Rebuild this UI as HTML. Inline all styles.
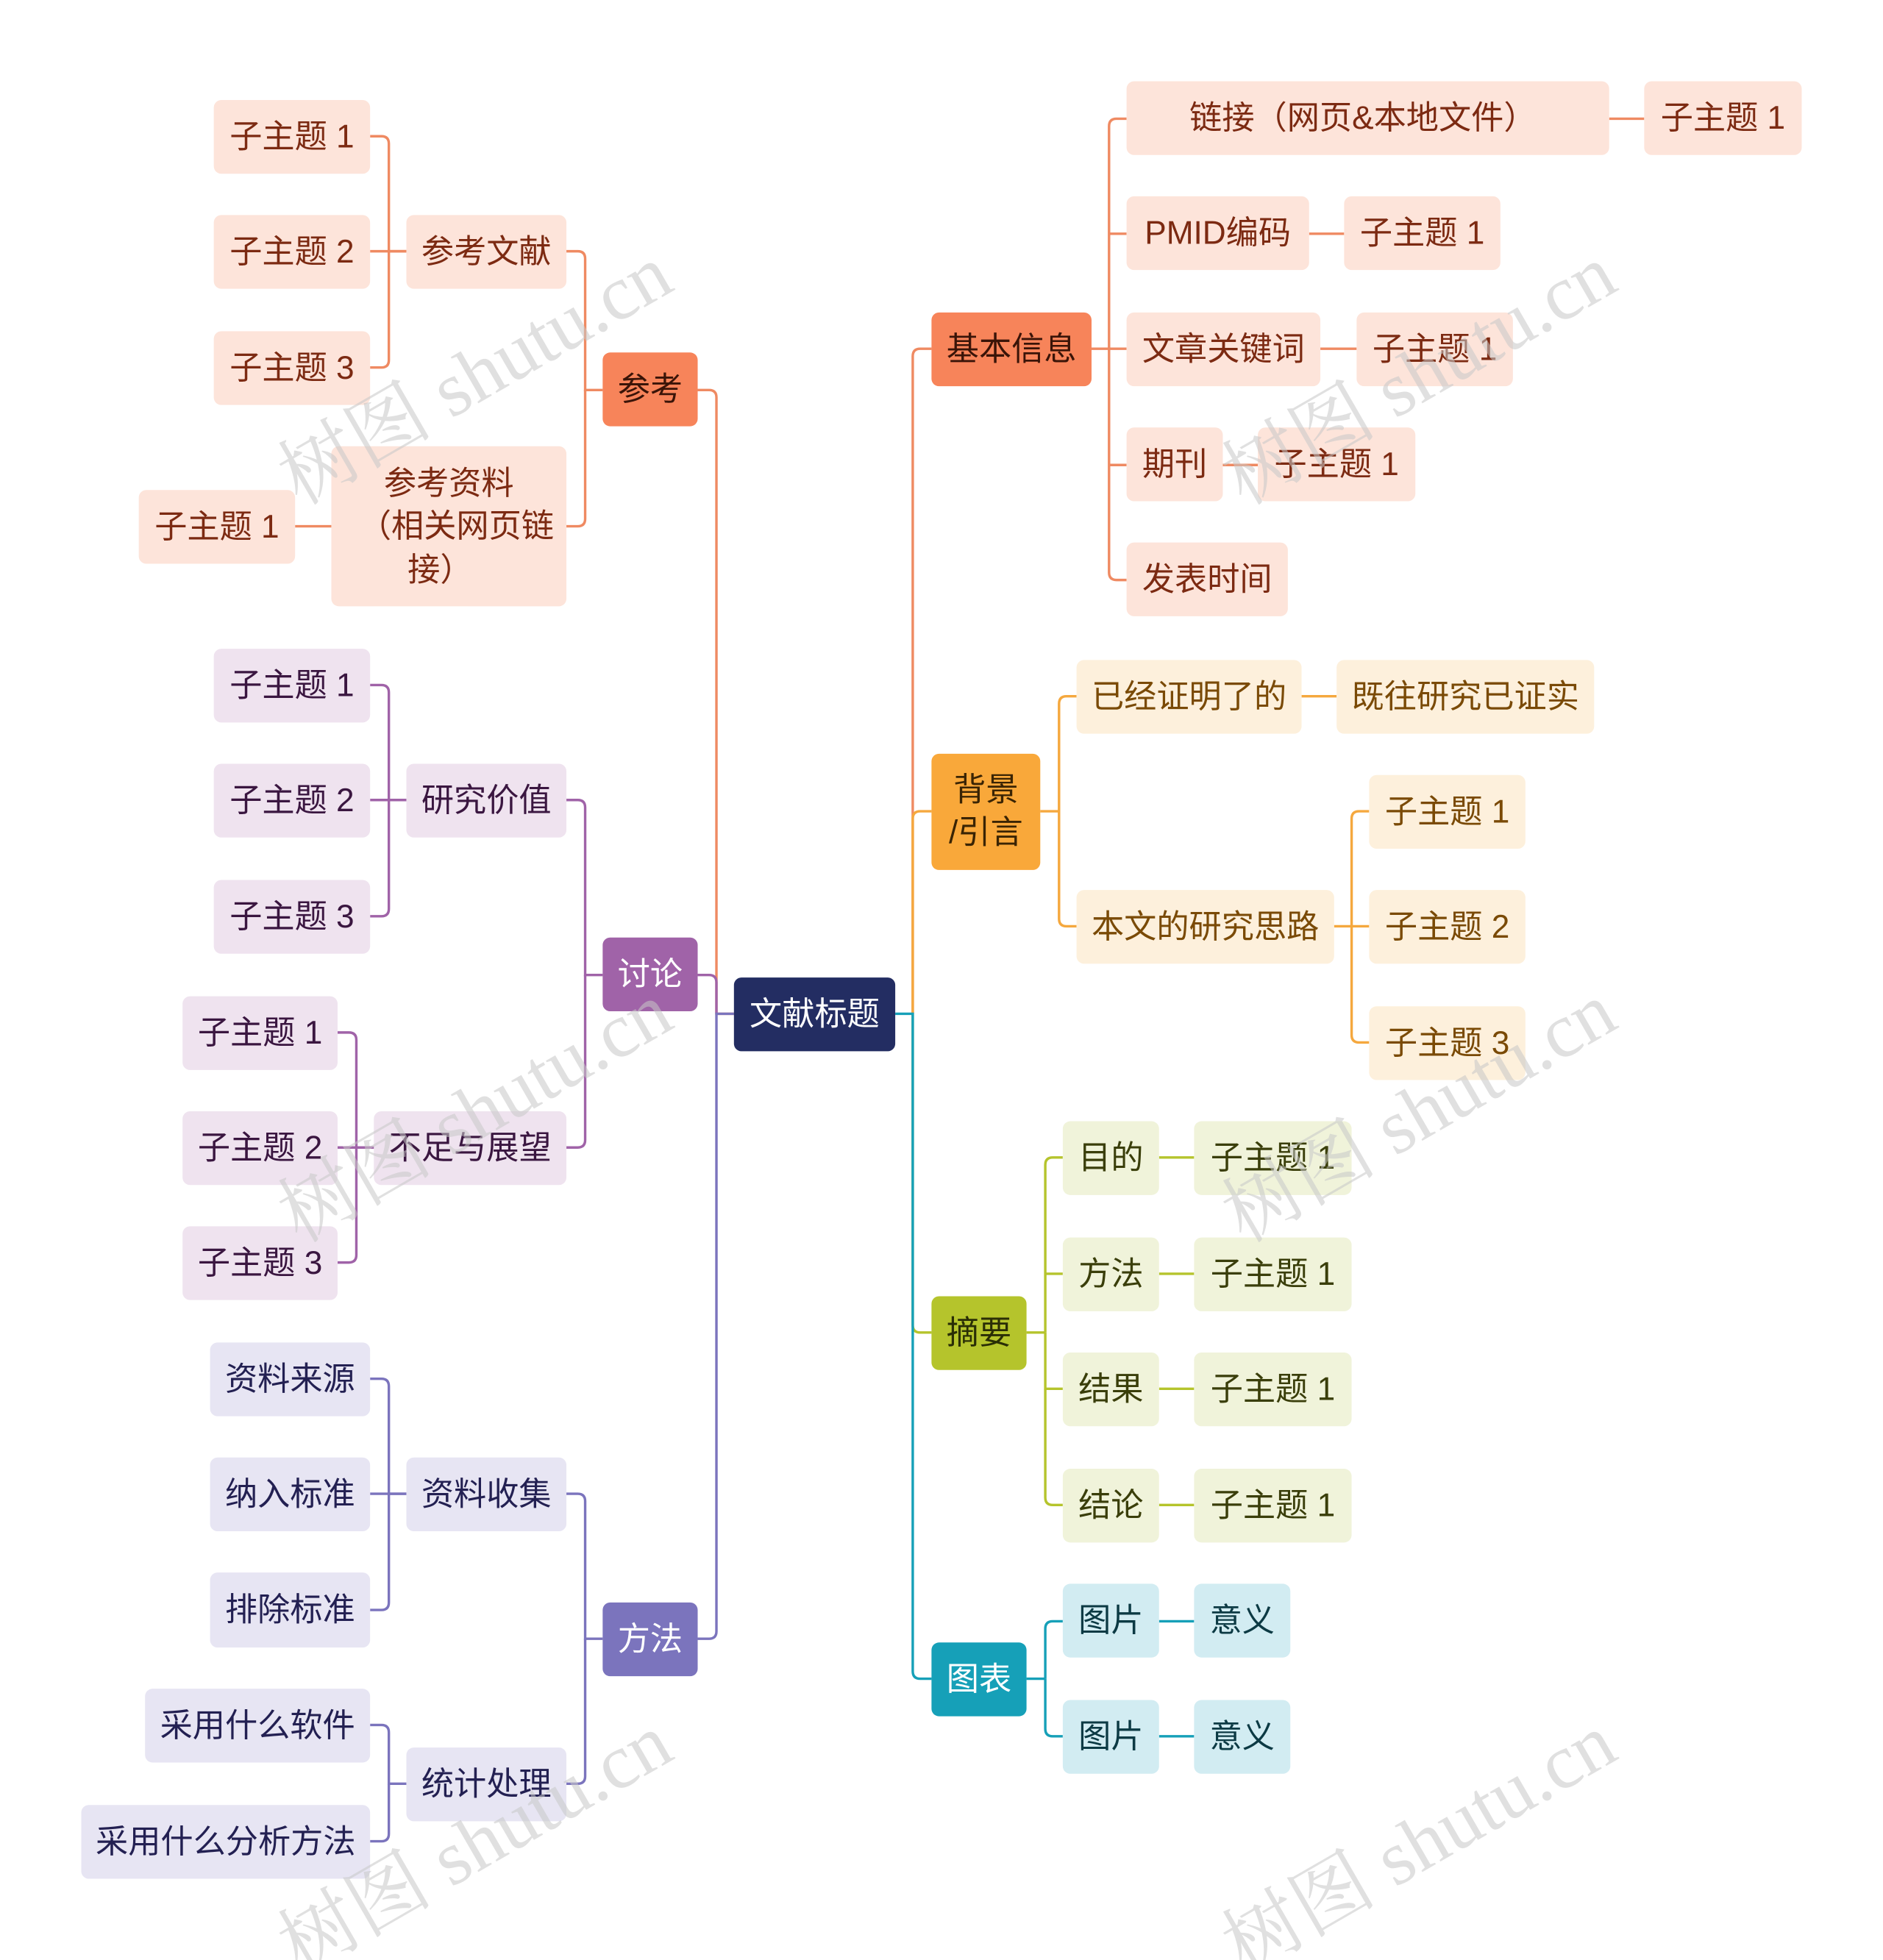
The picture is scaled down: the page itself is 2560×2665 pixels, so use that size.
<!DOCTYPE html>
<html><head><meta charset="utf-8"><style>
html,body{margin:0;padding:0;background:#fff;}
svg{display:block;}
text{font-family:"Liberation Sans","Noto Sans CJK SC",sans-serif;font-size:26px;text-anchor:middle;dominant-baseline:central;}
.o{fill:#fde4da}.ot{fill:#7c2a12}
.p{fill:#efe3ef}.pt{fill:#3a1640}
.m{fill:#e7e5f3}.mt{fill:#232052}
.y{fill:#fdf0dc}.yt{fill:#7a4a06}
.g{fill:#f0f3da}.gt{fill:#3a3e0a}
.t{fill:#d2ecf2}.tt{fill:#0c3a44}
path{fill:none;stroke-width:2;}
.wm{fill:#c8c8c8;opacity:.55;font-family:"Liberation Serif","Noto Serif CJK SC",serif;font-size:62px;}
</style></head><body>
<svg width="2560" height="2665" viewBox="0 0 1506 1568" preserveAspectRatio="none" xmlns="http://www.w3.org/2000/svg">
<g stroke="#ef8a62">
<path d="M558,312 H567 Q573,312 573,318 V811 H587"/>
<path d="M453,201 H462 Q468,201 468,207 V312 H482"/>
<path d="M453,421 H462 Q468,421 468,415 V312"/>
<path d="M296,109 H305 Q311,109 311,115 V201 H325"/>
<path d="M296,201 H325"/>
<path d="M296,294 H305 Q311,294 311,288 V201"/>
<path d="M236,421 H265"/>
</g>
<g stroke="#a063a8">
<path d="M558,780 H567 Q573,780 573,786 V811"/>
<path d="M453,640 H462 Q468,640 468,646 V780 H482"/>
<path d="M453,918 H462 Q468,918 468,912 V780"/>
<path d="M296,548 H305 Q311,548 311,554 V640 H325"/>
<path d="M296,640 H325"/>
<path d="M296,733 H305 Q311,733 311,727 V640"/>
<path d="M270,826 H279 Q285,826 285,832 V918 H299"/>
<path d="M270,918 H299"/>
<path d="M270,1010 H279 Q285,1010 285,1004 V918"/>
</g>
<g stroke="#7b74bd">
<path d="M558,1311 H567 Q573,1311 573,1305 V811 H587"/>
<path d="M453,1195 H462 Q468,1195 468,1201 V1311 H482"/>
<path d="M453,1427 H462 Q468,1427 468,1421 V1311"/>
<path d="M296,1103 H305 Q311,1103 311,1109 V1195 H325"/>
<path d="M296,1195 H325"/>
<path d="M296,1288 H305 Q311,1288 311,1282 V1195"/>
<path d="M296,1380 H305 Q311,1380 311,1386 V1427 H325"/>
<path d="M296,1473 H305 Q311,1473 311,1467 V1427"/>
</g>
<g stroke="#ef8a62">
<path d="M730,811 V285 Q730,279 736,279 H745"/>
<path d="M873,279 H901"/>
<path d="M887,279 V101 Q887,95 893,95 H901"/>
<path d="M887,187 H901"/>
<path d="M887,279 V458 Q887,464 893,464 H901"/>
<path d="M887,372 H901"/>
<path d="M1287,95 H1315"/><path d="M1047,187 H1075"/><path d="M1056,279 H1085"/><path d="M978,372 H1006"/>
</g>
<g stroke="#f5a83e">
<path d="M730,811 V655 Q730,649 736,649 H745"/>
<path d="M832,649 H847"/>
<path d="M847,649 V563 Q847,557 853,557 H861"/>
<path d="M847,649 V735 Q847,741 853,741 H861"/>
<path d="M1041,557 H1069"/>
<path d="M1067,741 H1095"/>
<path d="M1081,741 V655 Q1081,649 1087,649 H1095"/>
<path d="M1081,741 V828 Q1081,834 1087,834 H1095"/>
</g>
<g stroke="#b5c42c">
<path d="M730,811 V1060 Q730,1066 736,1066 H745"/>
<path d="M821,1066 H836"/>
<path d="M836,1066 V932 Q836,926 842,926 H850"/>
<path d="M836,1019 H850"/>
<path d="M836,1066 V1111 H850"/>
<path d="M836,1111 V1198 Q836,1204 842,1204 H850"/>
<path d="M927,926 H955"/><path d="M927,1019 H955"/><path d="M927,1111 H955"/><path d="M927,1204 H955"/>
</g>
<g stroke="#16a0b8">
<path d="M716,811 H730 V1337 Q730,1343 736,1343 H745"/>
<path d="M821,1343 H836"/>
<path d="M836,1343 V1303 Q836,1297 842,1297 H850"/>
<path d="M836,1343 V1383 Q836,1389 842,1389 H850"/>
<path d="M927,1297 H955"/><path d="M927,1389 H955"/>
</g>
<rect x="587" y="782" width="129" height="59" rx="6" fill="#232d62"/><text x="651.5" y="811.5" fill="#fff">文献标题</text>
<rect x="482" y="282" width="76" height="59" rx="6" fill="#f7845a"/><text x="520" y="311.5" fill="#3a1408">参考</text>
<rect class="o" x="325" y="172" width="128" height="59" rx="6"/><text class="ot" x="389" y="201.5">参考文献</text>
<rect class="o" x="171" y="80" width="125" height="59" rx="6"/><text class="ot" x="233.5" y="109.5">子主题 1</text>
<rect class="o" x="171" y="172" width="125" height="59" rx="6"/><text class="ot" x="233.5" y="201.5">子主题 2</text>
<rect class="o" x="171" y="265" width="125" height="59" rx="6"/><text class="ot" x="233.5" y="294.5">子主题 3</text>
<rect class="o" x="265" y="357" width="188" height="128" rx="6"/>
<text class="ot" x="359" y="387">参考资料</text><text class="ot" x="365" y="421">（相关网页链</text><text class="ot" x="352" y="456">接）</text>
<rect class="o" x="111" y="392" width="125" height="59" rx="6"/><text class="ot" x="173.5" y="421.5">子主题 1</text>
<rect x="482" y="750" width="76" height="59" rx="6" fill="#a063a8"/><text x="520" y="779.5" fill="#fff">讨论</text>
<rect class="p" x="325" y="611" width="128" height="59" rx="6"/><text class="pt" x="389" y="640.5">研究价值</text>
<rect class="p" x="171" y="519" width="125" height="59" rx="6"/><text class="pt" x="233.5" y="548.5">子主题 1</text>
<rect class="p" x="171" y="611" width="125" height="59" rx="6"/><text class="pt" x="233.5" y="640.5">子主题 2</text>
<rect class="p" x="171" y="704" width="125" height="59" rx="6"/><text class="pt" x="233.5" y="733.5">子主题 3</text>
<rect class="p" x="299" y="889" width="154" height="59" rx="6"/><text class="pt" x="376" y="918.5">不足与展望</text>
<rect class="p" x="146" y="797" width="124" height="59" rx="6"/><text class="pt" x="208" y="826.5">子主题 1</text>
<rect class="p" x="146" y="889" width="124" height="59" rx="6"/><text class="pt" x="208" y="918.5">子主题 2</text>
<rect class="p" x="146" y="981" width="124" height="59" rx="6"/><text class="pt" x="208" y="1010.5">子主题 3</text>
<rect x="482" y="1282" width="76" height="59" rx="6" fill="#7b74bd"/><text x="520" y="1311.5" fill="#fff">方法</text>
<rect class="m" x="325" y="1166" width="128" height="59" rx="6"/><text class="mt" x="389" y="1195.5">资料收集</text>
<rect class="m" x="168" y="1074" width="128" height="59" rx="6"/><text class="mt" x="232" y="1103.5">资料来源</text>
<rect class="m" x="168" y="1166" width="128" height="59" rx="6"/><text class="mt" x="232" y="1195.5">纳入标准</text>
<rect class="m" x="168" y="1258" width="128" height="60" rx="6"/><text class="mt" x="232" y="1288">排除标准</text>
<rect class="m" x="325" y="1398" width="128" height="59" rx="6"/><text class="mt" x="389" y="1427.5">统计处理</text>
<rect class="m" x="116" y="1351" width="180" height="59" rx="6"/><text class="mt" x="206" y="1380.5">采用什么软件</text>
<rect class="m" x="65" y="1444" width="231" height="59" rx="6"/><text class="mt" x="180.5" y="1473.5">采用什么分析方法</text>
<rect x="745" y="250" width="128" height="59" rx="6" fill="#f7845a"/><text x="809" y="279.5" fill="#3a1408">基本信息</text>
<rect class="o" x="901" y="65" width="386" height="59" rx="6"/><text class="ot" x="1090" y="94.5">链接（网页&amp;本地文件）</text>
<rect class="o" x="1315" y="65" width="126" height="59" rx="6"/><text class="ot" x="1378" y="94.5">子主题 1</text>
<rect class="o" x="901" y="157" width="146" height="59" rx="6"/><text class="ot" x="974" y="186.5">PMID编码</text>
<rect class="o" x="1075" y="157" width="125" height="59" rx="6"/><text class="ot" x="1137.5" y="186.5">子主题 1</text>
<rect class="o" x="901" y="250" width="155" height="59" rx="6"/><text class="ot" x="978.5" y="279.5">文章关键词</text>
<rect class="o" x="1085" y="250" width="125" height="59" rx="6"/><text class="ot" x="1147.5" y="279.5">子主题 1</text>
<rect class="o" x="901" y="342" width="77" height="59" rx="6"/><text class="ot" x="939.5" y="371.5">期刊</text>
<rect class="o" x="1006" y="342" width="126" height="59" rx="6"/><text class="ot" x="1069" y="371.5">子主题 1</text>
<rect class="o" x="901" y="434" width="129" height="59" rx="6"/><text class="ot" x="965.5" y="463.5">发表时间</text>
<rect x="745" y="603" width="87" height="93" rx="6" fill="#f9a83a"/><text x="788.5" y="632" fill="#3a2404">背景</text><text x="788.5" y="666" fill="#3a2404">/引言</text>
<rect class="y" x="861" y="528" width="180" height="59" rx="6"/><text class="yt" x="951" y="557.5">已经证明了的</text>
<rect class="y" x="1069" y="528" width="206" height="59" rx="6"/><text class="yt" x="1172" y="557.5">既往研究已证实</text>
<rect class="y" x="861" y="712" width="206" height="59" rx="6"/><text class="yt" x="964" y="741.5">本文的研究思路</text>
<rect class="y" x="1095" y="620" width="125" height="59" rx="6"/><text class="yt" x="1157.5" y="649.5">子主题 1</text>
<rect class="y" x="1095" y="712" width="125" height="59" rx="6"/><text class="yt" x="1157.5" y="741.5">子主题 2</text>
<rect class="y" x="1095" y="805" width="125" height="59" rx="6"/><text class="yt" x="1157.5" y="834.5">子主题 3</text>
<rect x="745" y="1037" width="76" height="59" rx="6" fill="#b5c42c"/><text x="783" y="1066.5" fill="#2a2e06">摘要</text>
<rect class="g" x="850" y="897" width="77" height="59" rx="6"/><text class="gt" x="888.5" y="926.5">目的</text>
<rect class="g" x="955" y="897" width="126" height="59" rx="6"/><text class="gt" x="1018" y="926.5">子主题 1</text>
<rect class="g" x="850" y="990" width="77" height="59" rx="6"/><text class="gt" x="888.5" y="1019.5">方法</text>
<rect class="g" x="955" y="990" width="126" height="59" rx="6"/><text class="gt" x="1018" y="1019.5">子主题 1</text>
<rect class="g" x="850" y="1082" width="77" height="59" rx="6"/><text class="gt" x="888.5" y="1111.5">结果</text>
<rect class="g" x="955" y="1082" width="126" height="59" rx="6"/><text class="gt" x="1018" y="1111.5">子主题 1</text>
<rect class="g" x="850" y="1175" width="77" height="59" rx="6"/><text class="gt" x="888.5" y="1204.5">结论</text>
<rect class="g" x="955" y="1175" width="126" height="59" rx="6"/><text class="gt" x="1018" y="1204.5">子主题 1</text>
<rect x="745" y="1314" width="76" height="59" rx="6" fill="#16a0b8"/><text x="783" y="1343.5" fill="#fff">图表</text>
<rect class="t" x="850" y="1267" width="77" height="59" rx="6"/><text class="tt" x="888.5" y="1296.5">图片</text>
<rect class="t" x="955" y="1267" width="77" height="59" rx="6"/><text class="tt" x="993.5" y="1296.5">意义</text>
<rect class="t" x="850" y="1360" width="77" height="59" rx="6"/><text class="tt" x="888.5" y="1389.5">图片</text>
<rect class="t" x="955" y="1360" width="77" height="59" rx="6"/><text class="tt" x="993.5" y="1389.5">意义</text>
<text class="wm" x="380" y="300" transform="rotate(-30 380 300)">树图 shutu.cn</text>
<text class="wm" x="1135" y="300" transform="rotate(-30 1135 300)">树图 shutu.cn</text>
<text class="wm" x="380" y="890" transform="rotate(-30 380 890)">树图 shutu.cn</text>
<text class="wm" x="1135" y="890" transform="rotate(-30 1135 890)">树图 shutu.cn</text>
<text class="wm" x="380" y="1475" transform="rotate(-30 380 1475)">树图 shutu.cn</text>
<text class="wm" x="1135" y="1475" transform="rotate(-30 1135 1475)">树图 shutu.cn</text>
</svg>
</body></html>
